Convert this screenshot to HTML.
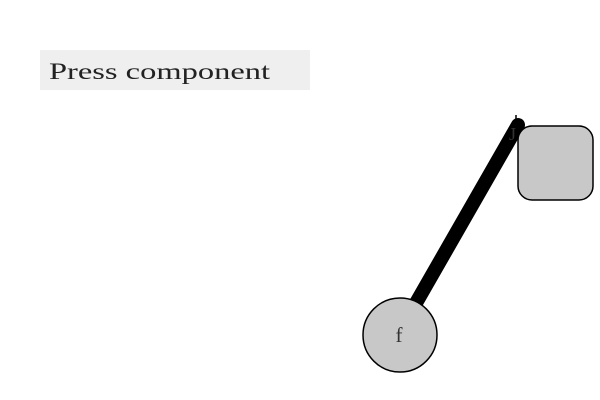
<!DOCTYPE html>
<html><head><meta charset="utf-8"><style>
html,body{margin:0;padding:0;background:#fff;width:600px;height:400px;overflow:hidden}
svg text{font-family:"Liberation Serif",serif}
</style></head><body>
<svg width="600" height="400">
<rect x="40" y="50" width="270" height="40" fill="#efefef"/>
<text x="49" y="79" font-size="23" textLength="221" lengthAdjust="spacingAndGlyphs" fill="#222">Press component</text>
<line x1="518" y1="125" x2="412" y2="310" stroke="#000" stroke-width="14" stroke-linecap="round"/>
<line x1="516" y1="115" x2="516" y2="125" stroke="#000" stroke-width="1.5"/>
<text x="509" y="140" font-size="18" fill="#333">J</text>
<rect x="518" y="126" width="75" height="74" rx="14" fill="#c8c8c8" stroke="#000" stroke-width="1.5"/>
<circle cx="400" cy="335" r="37" fill="#c8c8c8" stroke="#000" stroke-width="1.5"/>
<text x="399" y="342" font-size="21" fill="#333" text-anchor="middle">f</text>
</svg>
</body></html>
